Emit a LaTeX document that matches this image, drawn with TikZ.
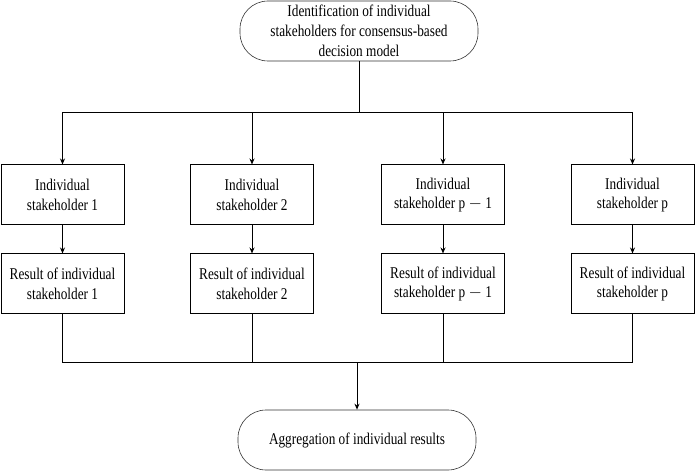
\documentclass[tikz,border=0pt]{standalone}
\usepackage{fontspec}
\setmainfont{Liberation Serif}[FakeStretch=0.81]
\usetikzlibrary{positioning,arrows.meta}

\begin{document}
\begin{tikzpicture}[
  x=1pt,y=1pt,
  >={Stealth[length=6pt,width=5pt]},
  every node/.style={font=\fontsize{16.4}{19.8}\selectfont,align=center},
  term/.style={rectangle,rounded corners=28pt,draw=black!80,line width=.6pt,
    minimum width=238pt,minimum height=60pt,inner sep=2pt},
  stake/.style={rectangle,draw,line width=1pt,minimum width=123pt,
    minimum height=60pt,inner sep=2pt},
  link/.style={line width=1pt}
]
  \useasboundingbox (0,0) rectangle (695,471);

  % start and end
  \node[term] (ident) at (359,440) {Identification of individual\\
    stakeholders for consensus-based\\decision model};
  \node[term] (aggr) at (357,31) {Aggregation of individual results};

  % stakeholders
  \node[stake] (sh1) at (62.5,276) {Individual\\stakeholder 1};
  \node[stake] (sh2) at (252,276) {Individual\\stakeholder 2};
  \node[stake] (sh3) at (443,276) {Individual\\stakeholder p $-$ 1};
  \node[stake] (sh4) at (632.5,276) {Individual\\stakeholder p};

  % results
  \node[stake,below=28pt of sh1] (res1) {Result of individual\\stakeholder 1};
  \node[stake,below=28pt of sh2] (res2) {Result of individual\\stakeholder 2};
  \node[stake,below=28pt of sh3] (res3) {Result of individual\\stakeholder p $-$ 1};
  \node[stake,below=28pt of sh4] (res4) {Result of individual\\stakeholder p};

  \coordinate (split) at (359,358);
  \coordinate (merge) at (357,109);

  \draw[link] (ident) -- (split);
  \draw[link,->] (split) -| (sh1);
  \draw[link,->] (split) -| (sh2);
  \draw[link,->] (split) -| (sh3);
  \draw[link,->] (split) -| (sh4);

  \draw[link,->] (sh1) -- (res1);
  \draw[link,->] (sh2) -- (res2);
  \draw[link,->] (sh3) -- (res3);
  \draw[link,->] (sh4) -- (res4);

  \draw[link] (res1) |- (merge);
  \draw[link] (res2) |- (merge);
  \draw[link] (res3) |- (merge);
  \draw[link] (res4) |- (merge);
  \draw[link,->] (merge) -- (aggr);
\end{tikzpicture}
\end{document}
